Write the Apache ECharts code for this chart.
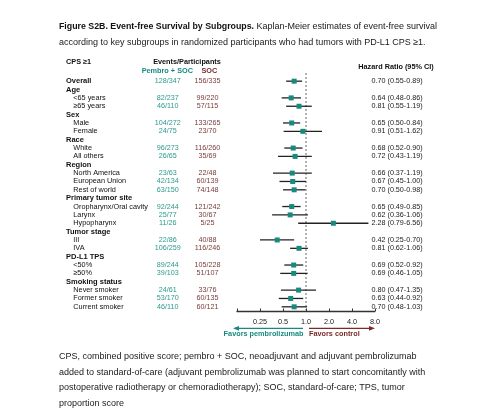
<!DOCTYPE html>
<html>
<head>
<meta charset="utf-8">
<script src="https://cdn.jsdelivr.net/npm/echarts@6/dist/echarts.min.js"></script>
<style>html,body{margin:0;padding:0;background:#fff}#c{width:500px;height:419px}</style>
</head>
<body>
<div id="c"></div>
<script>
const labels = ["Overall","Age","<65 years","≥65 years","Sex","Male","Female","Race","White","All others","Region","North America","European Union","Rest of world","Primary tumor site","Oropharynx/Oral cavity","Larynx","Hypopharynx","Tumor stage","III","IVA","PD-L1 TPS","<50%","≥50%","Smoking status","Never smoker","Former smoker","Current smoker"];
const rowLevel = [0,0,1,1,0,1,1,0,1,1,0,1,1,1,0,1,1,1,0,1,1,0,1,1,0,1,1,1];
const pembroEvents = ["128/347","","82/237","46/110","","104/272","24/75","","96/273","26/65","","23/63","42/134","63/150","","92/244","25/77","11/26","","22/86","106/259","","89/244","39/103","","24/61","53/170","46/110"];
const socEvents = ["156/335","","99/220","57/115","","133/265","23/70","","116/260","35/69","","22/48","60/139","74/148","","121/242","30/67","5/25","","40/88","116/246","","105/228","51/107","","33/76","60/135","60/121"];
const hr = [0.70,null,0.64,0.81,null,0.65,0.91,null,0.68,0.72,null,0.66,0.67,0.70,null,0.65,0.62,2.28,null,0.42,0.81,null,0.69,0.69,null,0.80,0.63,0.70];
const ciLow = [0.55,null,0.48,0.55,null,0.50,0.51,null,0.52,0.43,null,0.37,0.45,0.50,null,0.49,0.36,0.79,null,0.25,0.62,null,0.52,0.46,null,0.47,0.44,0.48];
const ciHigh = [0.89,null,0.86,1.19,null,0.84,1.62,null,0.90,1.19,null,1.19,1.00,0.98,null,0.85,1.06,6.56,null,0.70,1.06,null,0.92,1.05,null,1.35,0.92,1.03];
const tickLabels = ["", "0.25", "0.5", "1.0", "2.0", "4.0", "8.0"];
const tickValues = [0.125, 0.25, 0.5, 1, 2, 4, 8];

const FF = "'Liberation Sans', Arial, sans-serif";
const TEAL = '#178a7f', TEAL_TXT = '#2a9a8e', MAROON = '#7b2a2a', MAROON_TXT = '#7a3a3a';
const rowIdx = labels.map((_, i) => i);

const chart = echarts.init(document.getElementById('c'), null, {renderer: 'canvas'});

function textSeries(name, getX, getText, align, color, fontFn) {
  return {
    type: 'custom', name, xAxisIndex: 0, yAxisIndex: 0, silent: true,
    data: rowIdx.map(i => [getX(i), i]),
    encode: {x: 0, y: 1},
    renderItem: (params, api) => {
      const i = params.dataIndex;
      const t = getText(i);
      if (!t) return null;
      const p = api.coord([api.value(0), api.value(1)]);
      return {type: 'text', x: p[0], y: p[1], style: {text: t, textAlign: align, textVerticalAlign: 'middle', fill: color, font: fontFn(i)}};
    }
  };
}

const fmt = v => v.toFixed(2);
const hrText = i => hr[i] == null ? '' : fmt(hr[i]) + ' (' + fmt(ciLow[i]) + '-' + fmt(ciHigh[i]) + ')';

const forestData = rowIdx.filter(i => hr[i] != null).map(i => [hr[i], i, ciLow[i], ciHigh[i]]);

const option = {
  animation: false,
  grid: [
    {left: 0, top: 77, width: 500, height: 234},
    {left: 237, top: 77, width: 138, height: 234}
  ],
  xAxis: [
    {type: 'value', gridIndex: 0, min: 0, max: 500, show: false},
    {type: 'log', gridIndex: 1, logBase: 2, min: 0.125, max: 8, interval: 1,
      axisLine: {show: true, lineStyle: {color: '#333', width: 1.3}},
      axisTick: {show: true, inside: true, length: 2.5, lineStyle: {color: '#333', width: 1}},
      splitLine: {show: false},
      axisLabel: {margin: 7.5, fontSize: 7.3, fontFamily: FF, color: '#222',
        formatter: v => { const k = tickValues.findIndex(t => Math.abs(t - v) < 1e-6); return k >= 0 ? tickLabels[k] : ''; }}
    }
  ],
  yAxis: [
    {type: 'category', gridIndex: 0, data: rowIdx, inverse: true, show: false},
    {type: 'category', gridIndex: 1, data: rowIdx, inverse: true, show: false}
  ],
  series: [
    textSeries('labels', i => rowLevel[i] ? 73.3 : 66, i => labels[i], 'left', '#111',
      i => (rowLevel[i] ? 'normal 7.3px ' : 'bold 7.5px ') + FF),
    textSeries('pembro', i => 167.7, i => pembroEvents[i], 'center', TEAL_TXT, i => '7.2px ' + FF),
    textSeries('soc', i => 207.5, i => socEvents[i], 'center', MAROON_TXT, i => '7.2px ' + FF),
    textSeries('hr', i => 371.5, hrText, 'left', '#222', i => '7.2px ' + FF),
    {
      type: 'custom', name: 'forest', xAxisIndex: 1, yAxisIndex: 1, silent: true,
      data: forestData,
      encode: {x: [0, 2, 3], y: 1},
      renderItem: (params, api) => {
        const r = api.value(1);
        const pm = api.coord([api.value(0), r]);
        const pl = api.coord([api.value(2), r]);
        const ph = api.coord([api.value(3), r]);
        const s = 5;
        return {type: 'group', children: [
          {type: 'line', shape: {x1: pl[0], y1: pm[1], x2: ph[0], y2: pm[1]}, style: {stroke: '#222', lineWidth: 1.3}},
          {type: 'rect', shape: {x: pm[0] - s / 2, y: pm[1] - s / 2, width: s, height: s}, style: {fill: TEAL}}
        ]};
      },
      z: 3
    }
  ],
  graphic: [
    {type: 'text', left: 59, top: 18, style: {
      text: '{b|Figure S2B. Event-free Survival by Subgroups.} Kaplan-Meier estimates of event-free survival\naccording to key subgroups in randomized participants who had tumors with PD-L1 CPS ≥1.',
      font: '9px ' + FF, fill: '#1a1a1a', lineHeight: 16.5,
      rich: {b: {fontWeight: 'bold', fontSize: 8.8, fontFamily: FF, fill: '#111', lineHeight: 16.5}}
    }},
    {type: 'text', x: 66, y: 61.7, style: {text: 'CPS ≥1', font: 'bold 7.3px ' + FF, fill: '#111', textVerticalAlign: 'middle'}},
    {type: 'text', x: 187, y: 61.7, style: {text: 'Events/Participants', font: 'bold 7.3px ' + FF, fill: '#111', textAlign: 'center', textVerticalAlign: 'middle'}},
    {type: 'text', x: 167.3, y: 70.7, style: {text: 'Pembro + SOC', font: 'bold 7.3px ' + FF, fill: TEAL, textAlign: 'center', textVerticalAlign: 'middle'}},
    {type: 'text', x: 209.3, y: 70.7, style: {text: 'SOC', font: 'bold 7.3px ' + FF, fill: MAROON, textAlign: 'center', textVerticalAlign: 'middle'}},
    {type: 'text', x: 396, y: 66.7, style: {text: 'Hazard Ratio (95% CI)', font: 'bold 7.3px ' + FF, fill: '#111', textAlign: 'center', textVerticalAlign: 'middle'}},
    {type: 'text', left: 59, top: 348.5, style: {
      text: 'CPS, combined positive score; pembro + SOC, neoadjuvant and adjuvant pembrolizumab\nadded to standard-of-care (adjuvant pembrolizumab was planned to start concomitantly with\npostoperative radiotherapy or chemoradiotherapy); SOC, standard-of-care; TPS, tumor\nproportion score',
      font: '9px ' + FF, fill: '#1a1a1a', lineHeight: 15.7
    }}
  ]
};
chart.setOption(option);

// Reference line and arrows, positioned through the x scale
const xPix = v => chart.convertToPixel({xAxisIndex: 1}, v);
const x1 = xPix(1), xMin = xPix(0.125), xMax = xPix(8);
const ay = 328.3, ty = 334.2;
chart.setOption({graphic: option.graphic.concat([
  {type: 'line', shape: {x1: x1, y1: 73, x2: x1, y2: 310}, style: {stroke: '#666', lineWidth: 1, lineDash: [2, 2]}},
  {type: 'line', shape: {x1: x1 - 3, y1: ay, x2: xMin + 1, y2: ay}, style: {stroke: TEAL, lineWidth: 1.3}},
  {type: 'polygon', shape: {points: [[xMin - 4, ay], [xMin + 2, ay - 2.4], [xMin + 2, ay + 2.4]]}, style: {fill: TEAL}},
  {type: 'line', shape: {x1: x1 + 3, y1: ay, x2: xMax - 4, y2: ay}, style: {stroke: MAROON, lineWidth: 1.3}},
  {type: 'polygon', shape: {points: [[xMax, ay], [xMax - 6, ay - 2.4], [xMax - 6, ay + 2.4]]}, style: {fill: MAROON}},
  {type: 'text', x: x1 - 2.5, y: ty, style: {text: 'Favors pembrolizumab', font: 'bold 7.3px ' + FF, fill: TEAL, textAlign: 'right', textVerticalAlign: 'middle'}},
  {type: 'text', x: x1 + 3, y: ty, style: {text: 'Favors control', font: 'bold 7.3px ' + FF, fill: MAROON, textAlign: 'left', textVerticalAlign: 'middle'}}
])});
</script>
</body>
</html>
